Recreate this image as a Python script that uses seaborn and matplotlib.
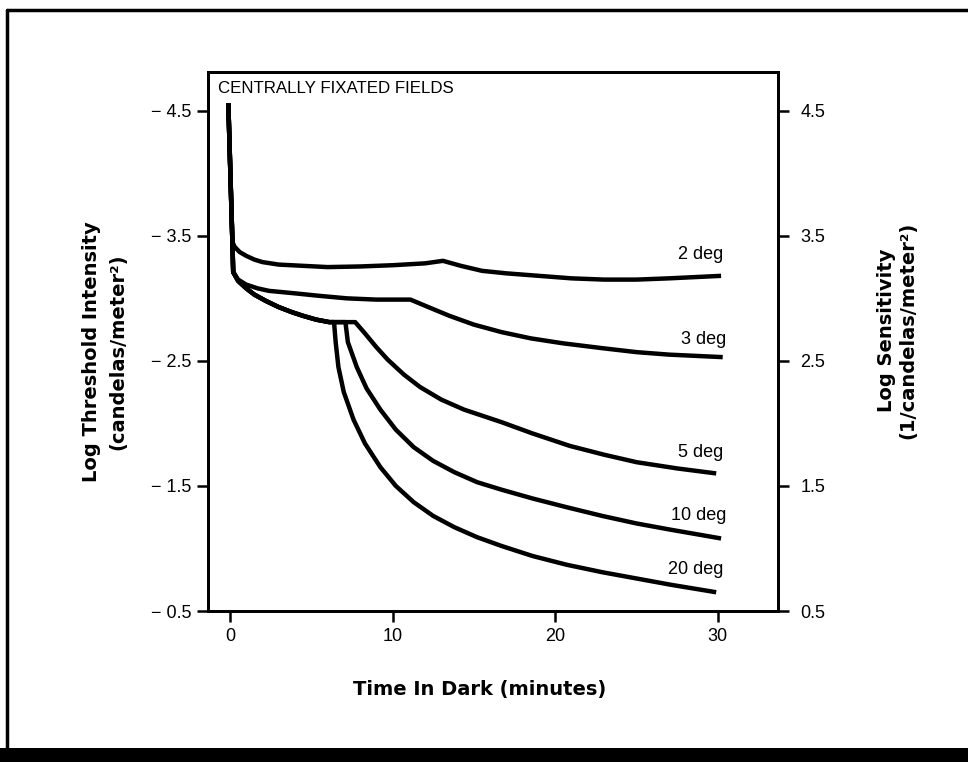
import matplotlib
matplotlib.use("Agg")
import matplotlib.pyplot as plt
import seaborn as sns
import pandas as pd

# dark adaptation curves: time in dark (min) vs log sensitivity
# initial steep drop shared by all curves
x_drop = [-0.1, 0.15]
y_drop = [4.56, 3.45]

x_2deg = x_drop + [0.3, 0.6, 1.0, 1.5, 2.0, 3.0, 4.5, 6.0, 8.0, 10.0, 12.0, 13.1, 14.2, 15.5,
                   17.0, 19.0, 21.0, 23.0, 25.0, 27.0, 30.2]
y_2deg = y_drop + [3.41, 3.37, 3.34, 3.31, 3.29, 3.27, 3.26, 3.25, 3.255, 3.265, 3.28, 3.30, 3.26, 3.22,
                   3.20, 3.18, 3.16, 3.15, 3.15, 3.16, 3.18]

x_3deg = x_drop + [0.2, 0.5, 1.0, 1.7, 2.4, 4.0, 5.5, 7.2, 9.0, 11.1, 12.2, 13.5, 15.0, 16.7,
                   18.5, 20.5, 23.0, 25.0, 27.0, 30.3]
y_3deg = y_drop + [3.21, 3.15, 3.11, 3.08, 3.06, 3.04, 3.02, 3.0, 2.99, 2.99, 2.93, 2.86, 2.79, 2.73,
                   2.68, 2.64, 2.60, 2.57, 2.55, 2.53]

# shared cone plateau of the 5/10/20 deg curves
x_cone = x_drop + [0.2, 0.5, 1.0, 1.5, 2.2, 3.0, 3.8, 4.5, 5.3, 6.1]
y_cone = y_drop + [3.21, 3.14, 3.08, 3.03, 2.98, 2.93, 2.89, 2.86, 2.83, 2.81]

x_5deg = x_cone + [7.7, 8.3, 9.0, 9.7, 10.7, 11.7, 13.0, 14.4, 16.7, 18.6, 20.9, 23.0, 25.0, 27.5, 29.9]
y_5deg = y_cone + [2.81, 2.72, 2.61, 2.51, 2.39, 2.29, 2.19, 2.11, 2.01, 1.92, 1.82, 1.75, 1.69, 1.64, 1.60]

x_10deg = x_cone + [7.1, 7.25, 7.8, 8.4, 9.25, 10.2, 11.3, 12.5, 13.8, 15.2, 16.7, 18.6, 20.7, 22.9,
                    25.0, 27.1, 30.2]
y_10deg = y_cone + [2.81, 2.65, 2.45, 2.28, 2.11, 1.95, 1.81, 1.70, 1.61, 1.53, 1.47, 1.40, 1.33, 1.26,
                    1.20, 1.15, 1.08]

x_20deg = x_cone + [6.4, 6.5, 6.67, 7.0, 7.6, 8.3, 9.25, 10.2, 11.3, 12.5, 13.8, 15.2, 16.7, 18.6,
                    20.7, 22.9, 25.0, 27.1, 29.9]
y_20deg = y_cone + [2.81, 2.65, 2.45, 2.25, 2.03, 1.84, 1.65, 1.50, 1.37, 1.26, 1.17, 1.09, 1.02, 0.94,
                    0.87, 0.81, 0.76, 0.71, 0.65]

curve_names = ["2 deg", "3 deg", "5 deg", "10 deg", "20 deg"]
label_x = [30.35, 30.5, 30.35, 30.5, 30.35]
label_y = [3.35, 2.67, 1.77, 1.26, 0.83]

yticks = [0.5, 1.5, 2.5, 3.5, 4.5]
xticks = [0, 10, 20, 30]

sns.set_style("ticks")
plt.rcParams["font.family"] = ["Liberation Sans", "DejaVu Sans"]
plt.rcParams["text.color"] = "black"
plt.rcParams["xtick.color"] = "black"
plt.rcParams["ytick.color"] = "black"

fig = plt.figure(figsize=(9.68, 7.62), dpi=100)
ax = fig.add_axes([208 / 968, 1 - 611 / 762, 570 / 968, 539 / 762])

curves = [(x_2deg, y_2deg), (x_3deg, y_3deg), (x_5deg, y_5deg), (x_10deg, y_10deg), (x_20deg, y_20deg)]
for name, (xs, ys) in zip(curve_names, curves):
    df = pd.DataFrame({"t": xs, "s": ys})
    sns.lineplot(data=df, x="t", y="s", ax=ax, color="black", lw=3.2,
                 sort=False, estimator=None, solid_capstyle="butt", solid_joinstyle="round")

for name, lx, ly in zip(curve_names, label_x, label_y):
    ax.text(lx, ly, name, ha="right", va="center", fontsize=13)

ax.text(0.0175, 0.970, "CENTRALLY FIXATED FIELDS", transform=ax.transAxes,
        ha="left", va="center", fontsize=12.2)

ax.set_xlim(-1.35, 33.7)
ax.set_ylim(0.5, 4.81)
ax.set_xticks(xticks)
ax.set_xticklabels([str(v) for v in xticks], fontsize=13)
ax.set_yticks(yticks)
ax.set_yticklabels(["\u2212 %.1f" % v for v in yticks], fontsize=13)
ax.set_xlabel("")
ax.set_ylabel("")
ax.tick_params(direction="out", length=8, width=1.8, pad=4)

ax2 = ax.twinx()
ax2.set_ylim(0.5, 4.81)
ax2.set_yticks(yticks)
ax2.set_yticklabels(["%.1f" % v for v in yticks], fontsize=13)
ax2.tick_params(direction="out", length=8, width=1.8, pad=8)

for a in (ax, ax2):
    for sp in a.spines.values():
        sp.set_linewidth(2)
        sp.set_color("black")

bold_font = ["DejaVu Sans"]
fig.text(105 / 968, 1 - 352 / 762, "Log Threshold Intensity\n(candelas/meter\u00b2)",
         rotation=90, ha="center", va="center", fontsize=14, fontweight="bold",
         family=bold_font, linespacing=1.5)
fig.text(897 / 968, 1 - 330 / 762, "Log Sensitivity\n(1/candelas/meter\u00b2)",
         rotation=90, ha="center", va="center", fontsize=14, fontweight="bold",
         family=bold_font, linespacing=1.2)
fig.text(480 / 968, 1 - 690 / 762, "Time In Dark (minutes)",
         ha="center", va="center", fontsize=14, fontweight="bold", family=bold_font)

# page frame
fig.add_artist(plt.Line2D([7 / 968, 1], [1 - 10 / 762, 1 - 10 / 762], transform=fig.transFigure,
                          color="black", lw=2.5))
fig.add_artist(plt.Line2D([7 / 968, 7 / 968], [0, 1 - 10 / 762], transform=fig.transFigure,
                          color="black", lw=2.5))
fig.add_artist(plt.Rectangle((0, 0), 1, 14 / 762, transform=fig.transFigure,
                             color="black", lw=0))

fig.savefig("out.png", dpi=100)
